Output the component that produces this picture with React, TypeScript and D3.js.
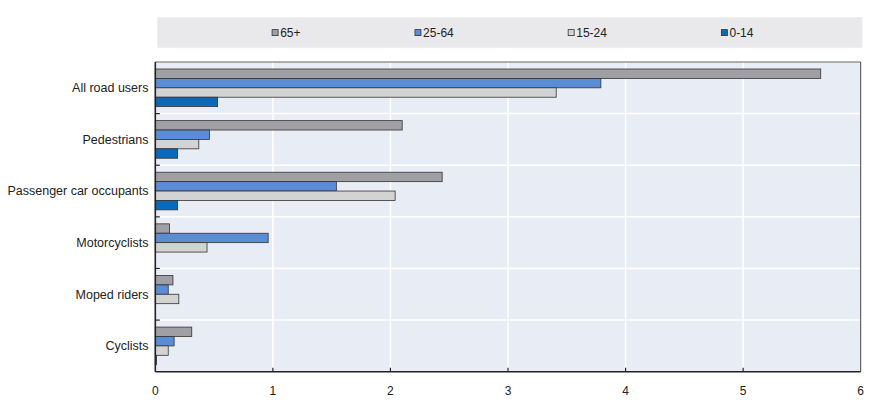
import React, { useEffect, useRef } from 'react';
import * as d3 from 'd3';

const categories = [
  'All road users',
  'Pedestrians',
  'Passenger car occupants',
  'Motorcyclists',
  'Moped riders',
  'Cyclists',
];
const seriesNames = ['65+', '25-64', '15-24', '0-14'];
const age65plus = [5.66, 2.1, 2.44, 0.12, 0.15, 0.31];
const age25to64 = [3.79, 0.46, 1.54, 0.96, 0.11, 0.16];
const age15to24 = [3.41, 0.37, 2.04, 0.44, 0.2, 0.11];
const age0to14 = [0.53, 0.19, 0.19, 0, 0, 0.01];
const xTicks = [0, 1, 2, 3, 4, 5, 6];

const seriesValues = [age65plus, age25to64, age15to24, age0to14];
const seriesColors = ['#a0a0a4', '#5b8dd6', '#d3d3d3', '#0a69b8'];

const W = 875;
const H = 405;
const FONT = '"Liberation Sans", Arial, sans-serif';

export default function App() {
  const svgRef = useRef<SVGSVGElement>(null);

  useEffect(() => {
    if (!svgRef.current) return;
    const svg = d3.select(svgRef.current);
    svg.selectAll('*').remove();

    const left = 155.3;
    const right = 860.7;
    const top = 62;
    const bottom = 371.7;

    const x = d3.scaleLinear().domain([0, 6]).range([left, right]);
    const y = d3.scaleBand<string>().domain(categories).range([top, bottom]).padding(0);
    const inner = d3
      .scaleBand<string>()
      .domain(seriesNames)
      .range([7, y.bandwidth() - 7])
      .padding(0);

    // legend
    const legTop = 17.3;
    const legBottom = 47.7;
    svg
      .append('rect')
      .attr('x', 157.3)
      .attr('y', legTop)
      .attr('width', 862.3 - 157.3)
      .attr('height', legBottom - legTop)
      .attr('fill', '#e9e9eb');

    let lx = 271.7;
    seriesNames.forEach((name, i) => {
      svg
        .append('rect')
        .attr('x', lx + 0.4)
        .attr('y', 29.6)
        .attr('width', 6)
        .attr('height', 6)
        .attr('fill', seriesColors[i])
        .attr('stroke', '#333')
        .attr('stroke-width', 0.8);
      const t = svg
        .append('text')
        .attr('x', lx + 8.5)
        .attr('y', 36.5)
        .attr('font-family', FONT)
        .attr('font-size', 12)
        .attr('fill', '#222')
        .text(name);
      const w = (t.node() as SVGTextElement).getComputedTextLength();
      lx = lx + 8.5 + w + 114;
    });

    // plot background
    svg
      .append('rect')
      .attr('x', left)
      .attr('y', top)
      .attr('width', right - left)
      .attr('height', bottom - top)
      .attr('fill', '#e8ecf5');

    // grid
    svg
      .append('g')
      .selectAll('line')
      .data(xTicks.slice(1, -1))
      .join('line')
      .attr('x1', (d) => x(d))
      .attr('x2', (d) => x(d))
      .attr('y1', top)
      .attr('y2', bottom)
      .attr('stroke', '#fff')
      .attr('stroke-width', 1.5);

    const boundaries = categories.slice(1).map((c) => y(c) as number);
    svg
      .append('g')
      .selectAll('line')
      .data(boundaries)
      .join('line')
      .attr('x1', left)
      .attr('x2', right)
      .attr('y1', (d) => d)
      .attr('y2', (d) => d)
      .attr('stroke', '#fff')
      .attr('stroke-width', 1.5);

    // bars
    seriesNames.forEach((name, si) => {
      svg
        .append('g')
        .selectAll('rect')
        .data(seriesValues[si].map((v, ci) => ({ v, c: categories[ci] })))
        .join('rect')
        .filter((d) => d.v > 0)
        .attr('x', x(0))
        .attr('y', (d) => (y(d.c) as number) + (inner(name) as number))
        .attr('width', (d) => x(d.v) - x(0))
        .attr('height', inner.bandwidth())
        .attr('fill', seriesColors[si])
        .attr('stroke', '#333')
        .attr('stroke-width', 0.8);
    });

    // borders
    svg
      .append('line')
      .attr('x1', left)
      .attr('x2', right)
      .attr('y1', top)
      .attr('y2', top)
      .attr('stroke', '#666')
      .attr('stroke-width', 1);
    svg
      .append('line')
      .attr('x1', right)
      .attr('x2', right)
      .attr('y1', top)
      .attr('y2', bottom)
      .attr('stroke', '#444')
      .attr('stroke-width', 1);

    // left axis
    svg
      .append('line')
      .attr('x1', left)
      .attr('x2', left)
      .attr('y1', top)
      .attr('y2', bottom)
      .attr('stroke', '#222')
      .attr('stroke-width', 1.6);
    svg
      .append('g')
      .selectAll('line')
      .data(boundaries)
      .join('line')
      .attr('x1', left)
      .attr('x2', left + 4.5)
      .attr('y1', (d) => d)
      .attr('y2', (d) => d)
      .attr('stroke', '#222')
      .attr('stroke-width', 1.2);

    svg
      .append('g')
      .selectAll('text')
      .data(categories)
      .join('text')
      .attr('x', 148.5)
      .attr('y', (d) => (y(d) as number) + y.bandwidth() / 2)
      .attr('dy', '0.35em')
      .attr('text-anchor', 'end')
      .attr('font-family', FONT)
      .attr('font-size', 12.5)
      .attr('fill', '#222')
      .text((d) => d);

    // bottom axis
    svg
      .append('line')
      .attr('x1', left)
      .attr('x2', right)
      .attr('y1', bottom)
      .attr('y2', bottom)
      .attr('stroke', '#222')
      .attr('stroke-width', 1.6);
    svg
      .append('g')
      .selectAll('line')
      .data(xTicks.slice(1, -1))
      .join('line')
      .attr('x1', (d) => x(d))
      .attr('x2', (d) => x(d))
      .attr('y1', bottom)
      .attr('y2', bottom - 4)
      .attr('stroke', '#222')
      .attr('stroke-width', 1.2);
    svg
      .append('g')
      .selectAll('text')
      .data(xTicks)
      .join('text')
      .attr('x', (d) => x(d))
      .attr('y', 394.5)
      .attr('text-anchor', 'middle')
      .attr('font-family', FONT)
      .attr('font-size', 12)
      .attr('fill', '#222')
      .text((d) => String(d));
  }, []);

  return (
    <svg
      ref={svgRef}
      width={W}
      height={H}
      style={{ position: 'absolute', left: 0, top: 0, background: '#fff' }}
    />
  );
}
